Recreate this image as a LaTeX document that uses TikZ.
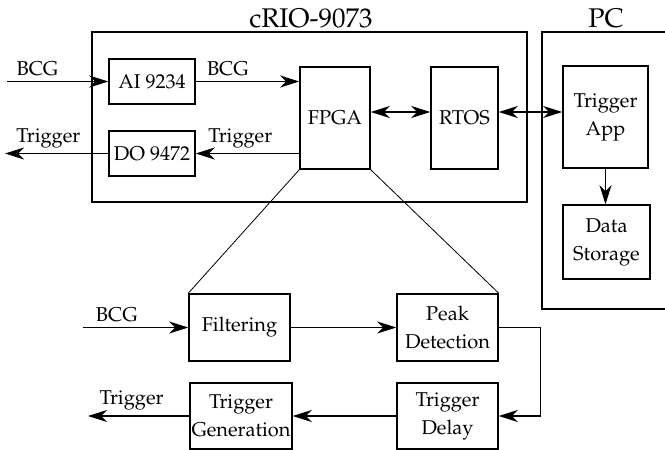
\documentclass[tikz,border=0pt]{standalone}
\usepackage[T1]{fontenc}
\usepackage{mathpazo}
\usepackage{tikz}
\usetikzlibrary{arrows.meta, positioning, calc}

\begin{document}
\begin{tikzpicture}[
    x=0.5pt, y=-0.5pt,
    font=\fontsize{10}{14}\selectfont,
    block/.style={draw, line width=0.75pt, inner sep=0pt, align=center},
    group/.style={draw, line width=1pt},
    flow/.style={-{Stealth[length=9.5pt,width=6pt,inset=3pt]}, line width=0.6pt},
    both/.style={{Stealth[length=9.5pt,width=6pt,inset=3pt]}-{Stealth[length=9.5pt,width=6pt,inset=3pt]}, line width=0.6pt},
    zoomline/.style={line width=0.4pt},
    lbl/.style={above=2pt, inner sep=0.5pt},
    title/.style={font=\fontsize{13.5}{16}\selectfont, anchor=base},
]
\clip (0,0) rectangle (665,450);

% outer boxes
\draw[group] (92,32) rectangle (527,202);
\draw[group] (542,32) rectangle (700,309);
\node[title] (criotitle) at (311,27) {cRIO-9073};
\node[title] (pctitle) at (606,27) {PC};

% cRIO modules
\node[block, minimum width=43pt, minimum height=22.5pt] (ai) at (152,81.5) {AI 9234};
\node[block, minimum width=43pt, minimum height=22.5pt] (do) at (152,153.5) {DO 9472};
\node[block, minimum width=35pt, minimum height=51pt] (fpga) at (335,118) {FPGA};
\node[block, minimum width=33.5pt, minimum height=51pt] (rtos) at (464.5,118) {RTOS};

% PC side
\node[block, minimum width=42.5pt, minimum height=51pt] (app) at (605.5,117) {Trigger\\App};
\node[block, minimum width=43.5pt, minimum height=37pt] (store) at (606.5,242) {Data\\Storage};

% FPGA detail
\node[block, minimum width=50.5pt, minimum height=33.5pt] (filt) at (239.5,327.5) {Filtering};
\node[block, minimum width=50.5pt, minimum height=33.5pt] (peak) at (447.5,327.5) {Peak\\Detection};
\node[block, minimum width=51pt, minimum height=33pt] (gen) at (241,416) {Trigger\\Generation};
\node[block, minimum width=50.5pt, minimum height=33pt] (delay) at (447.5,416) {Trigger\\Delay};

\coordinate (bcgin) at (7,81.5);
\coordinate (trigout) at (5,153.5);
\coordinate (bcgin2) at (83,327.5);
\coordinate (trigout2) at (88,416);

\draw[flow] (bcgin) -- node[lbl, pos=0.3] {BCG} (ai.west);
\draw[flow] (ai.east) -- node[lbl, pos=0.31] {BCG} (ai.east -| fpga.west);
\draw[flow] (do.east -| fpga.west) -- node[lbl, pos=0.57] {Trigger} (do.east);
\draw[flow] (do.west) -- node[lbl, pos=0.58] {Trigger} (trigout);
\draw[both] ([yshift=3pt]fpga.east) -- ([yshift=3pt]rtos.west);
\draw[both] ([yshift=3pt]rtos.east) -- ([yshift=3pt]rtos.east -| app.west);
\draw[flow] (app.south) -- (app.south |- store.north);

% zoom lines
\draw[zoomline] (fpga.south west) -- (filt.north west);
\draw[zoomline] (fpga.south east) -- (peak.north east);

\draw[flow] (bcgin2) -- node[lbl, pos=0.32] {BCG} (filt.west);
\draw[flow] (filt) -- (peak);
\draw[flow] (peak.east) -- ++(42,0) |- (delay.east);
\draw[flow] (delay) -- (gen);
\draw[flow] (gen.west) -- node[lbl, pos=0.57] {Trigger} (trigout2);

\end{tikzpicture}
\end{document}
